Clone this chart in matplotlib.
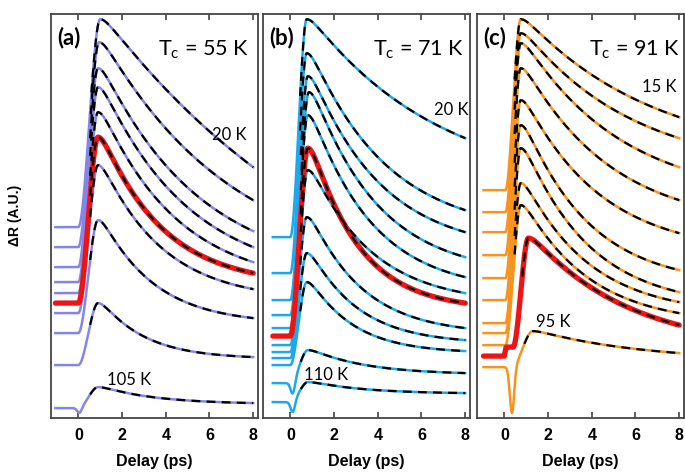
import numpy as np
import matplotlib.pyplot as plt

plt.rcParams['mathtext.default'] = 'regular'

delay_ticks = [0, 2, 4, 6, 8]

# values (arbitrary units, 0 = bottom of the frame)
# panel (a), Tc = 55 K, curves from top (20 K) to bottom (105 K); index 5 is the red one
a_base = [191, 171, 151, 136, 125, 115, 105, 85, 53, 10]
a_peak = [399, 376, 350, 331, 306, 281, 253, 198, 115, 31]
a_end = [251, 218, 187, 171, 156, 145, 129, 100, 61, 15]
a_tau = [12, 6, 4.5, 4, 3.5, 2.8, 2.8, 2.4, 2.0, 2.5]
a_tpeak = [1.0, 0.95, 0.9, 0.9, 0.9, 0.9, 0.9, 0.9, 0.9, 0.9]
a_trise = [0.0] * 10
a_dip = [0, 0, 0, 0, 0, 0, 0, 0, 0, 5]
a_tdip = [0, 0, 0, 0, 0, 0, 0, 0, 0, 0.05]
a_step = [0] * 10

# panel (b), Tc = 71 K, 20 K ... 110 K; index 5 is red
b_base = [181, 145, 118, 103, 90, 82, 73, 66, 60, 53, 35, 16]
b_peak = [399, 365, 342, 326, 303, 270, 248, 201, 165, 136, 68, 36]
b_end = [280, 208, 186, 161, 141, 115, 125, 90, 78, 67, 45, 25]
b_tau = [6, 3.5, 3.2, 3.0, 2.8, 2.2, 2.8, 2.4, 2.2, 2.0, 2.5, 2.5]
b_tpeak = [0.75, 0.75, 0.8, 0.85, 0.8, 0.8, 0.8, 0.75, 0.75, 0.75, 0.8, 0.8]
b_trise = [0.0] * 12
b_dip = [0, 0, 0, 0, 0, 0, 0, 0, 0, 0, 12, 11]
b_tdip = [0, 0, 0, 0, 0, 0, 0, 0, 0, 0, 0.12, 0.12]
b_step = [0] * 12

# panel (c), Tc = 91 K, 15 K ... 95 K; index 9 is red
c_base = [228, 206, 186, 163, 140, 118, 95, 85, 73, 62, 51]
c_peak = [399, 385, 375, 350, 318, 293, 270, 235, 213, 180, 87]
c_end = [301, 280, 251, 218, 185, 148, 126, 116, 105, 93, 65]
c_tau = [6, 5, 4.5, 4, 3.5, 3, 3, 3, 3, 4.5, 5]
c_tpeak = [0.75] * 9 + [1.1, 1.3]
c_trise = [0.05] * 9 + [0.4, 0.35]
c_dip = [0] * 10 + [46]
c_tdip = [0] * 10 + [0.35]
c_step = [0] * 9 + [9, 0]

panels = [
    dict(tag='(a)', tc='55', base=a_base, peak=a_peak, end=a_end, tau=a_tau,
         tp=a_tpeak, t0=a_trise, dip=a_dip, tdip=a_tdip, step=a_step, red=5,
         color='#8585e8', tstart=-1.05,
         notes=[('20 K', 6.13, 278), ('105 K', 1.33, 33)], tcx=0.517),
    dict(tag='(b)', tc='71', base=b_base, peak=b_peak, end=b_end, tau=b_tau,
         tp=b_tpeak, t0=b_trise, dip=b_dip, tdip=b_tdip, step=b_step, red=5,
         color='#1ea8ec', tstart=-0.8,
         notes=[('20 K', 6.58, 303), ('110 K', 0.64, 38)], tcx=0.531),
    dict(tag='(c)', tc='91', base=c_base, peak=c_peak, end=c_end, tau=c_tau,
         tp=c_tpeak, t0=c_trise, dip=c_dip, tdip=c_tdip, step=c_step, red=9,
         color='#f7931e', tstart=-0.95,
         notes=[('15 K', 6.32, 326), ('95 K', 1.45, 91)], tcx=0.540),
]


def trace(t, base, peak, end, tau, t0, tp, dip, tdip, step):
    w = 0.3
    start = base + step * np.clip(t / 0.08, 0, 1)
    s0 = base + step
    u = np.clip((t - t0) / (tp - t0), 0, 1)
    rise = start + (peak - s0) * u * u * (3 - 2 * u)
    g = np.exp(-(np.sqrt(w ** 2 + (t - tp) ** 2) - w) / tau)
    g8 = np.exp(-(np.sqrt(w ** 2 + (8 - tp) ** 2) - w) / tau)
    floor = (end - peak * g8) / (1 - g8)
    dec = floor + (peak - floor) * g
    y = np.where(t <= tp, rise, dec)
    if dip:
        y = y - dip * np.exp(-((t - tdip) / 0.14) ** 2)
    return y


fig = plt.figure(figsize=(6.85, 4.74), dpi=100)
lefts = [51, 263, 477]

for p, lx in zip(panels, lefts):
    ax = fig.add_axes([lx / 685, 0.118, 207 / 685, 0.852])
    n = len(p['base'])
    for i in range(n):
        t = np.linspace(p['tstart'], 8, 700)
        args = (p['base'][i], p['peak'][i], p['end'][i], p['tau'][i],
                p['t0'][i], p['tp'][i], p['dip'][i], p['tdip'][i], p['step'][i])
        y = trace(t, *args)
        if i == p['red']:
            ax.plot(t, y, color='#ee1414', lw=3.8, zorder=3, solid_capstyle='round')
        else:
            ax.plot(t, y, color=p['color'], lw=1.8, zorder=2)
        tf = np.linspace(p['t0'][i] + 0.6 * (p['tp'][i] - p['t0'][i]), 8, 500)
        ax.plot(tf, trace(tf, *args), color='black', lw=1.6,
                dashes=(4, 2.8), zorder=4)

    ax.set_xlim(-1.25, 8.22)
    ax.set_ylim(0, 404)
    ax.set_xticks(delay_ticks)
    ax.set_yticks([])
    ax.tick_params(axis='x', direction='in', top=True, length=4, width=1.2,
                   color='#444444', pad=7, labelsize=11.5)
    for lab in ax.get_xticklabels():
        lab.set_fontweight('bold')
        lab.set_family('Liberation Sans')
    for sp in ax.spines.values():
        sp.set_color('#444444')
        sp.set_linewidth(1.3)
    ax.set_xlabel('Delay (ps)', fontsize=11.5, fontweight='bold',
                  family='Liberation Sans', labelpad=8)

    ax.text(0.028, 0.968, p['tag'], transform=ax.transAxes, ha='left', va='top',
            fontsize=16, fontweight='bold', family='Lato')
    ax.text(p['tcx'], 0.898, 'T$_c$ = ' + p['tc'] + ' K', transform=ax.transAxes,
            ha='left', va='baseline', fontsize=15.5, family='Lato')
    for txt, x, y in p['notes']:
        ax.text(x, y, txt, ha='left', va='baseline', fontsize=12, family='Lato')

fig.text(0.022, 0.546, 'ΔR (A.U.)', rotation=90, ha='center', va='center',
         fontsize=10, fontweight='bold', family='Liberation Sans')

fig.savefig('out.png', dpi=100)
